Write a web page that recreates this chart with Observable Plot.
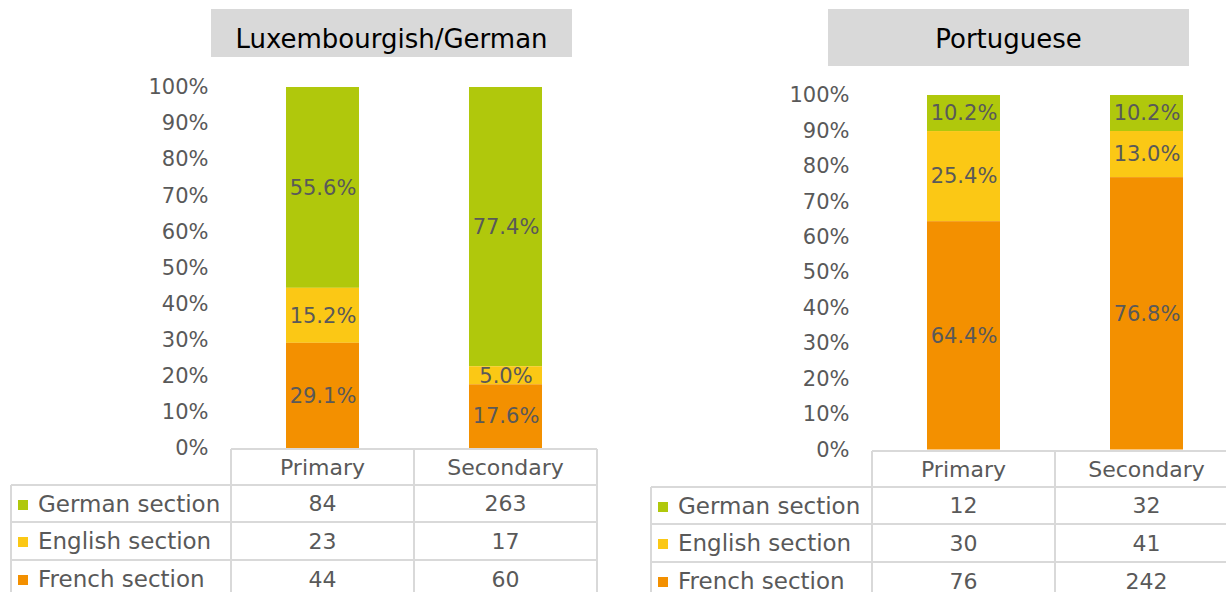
<!DOCTYPE html>
<html>
<head>
<meta charset="utf-8">
<script src="https://cdn.jsdelivr.net/npm/d3@7"></script>
<script src="https://cdn.jsdelivr.net/npm/@observablehq/plot@0.6"></script>
<style>
  html, body { margin: 0; padding: 0; background: #fff; overflow: hidden; }
  #root { position: relative; width: 1226px; height: 592px; overflow: hidden; font-family: "DejaVu Sans", sans-serif; }
  .title { position: absolute; background: #d9d9d9; color: #000; font-size: 26px; line-height: 26px; display: flex; align-items: flex-start; justify-content: center; box-sizing: border-box; padding-top: 17px; white-space: nowrap; }
  .cell { position: absolute; display: flex; align-items: center; justify-content: center; color: #595959; font-size: 22px; white-space: nowrap; }
  .lab { justify-content: flex-start; font-size: 23px; }
  .hl, .vl { position: absolute; background: #d9d9d9; }
</style>
</head>
<body>
<div id="root"></div>
<script>
// ---- data ----
const categories = ["Primary", "Secondary"];
const sections = ["German section", "English section", "French section"];
const sectionColors = ["#b0c80c", "#fbc815", "#f39000"];
const luxPrimary = [84, 23, 44];
const luxSecondary = [263, 17, 60];
const ptPrimary = [12, 30, 76];
const ptSecondary = [32, 41, 242];
const panelTitles = ["Luxembourgish/German", "Portuguese"];
const yTicks = [0, 0.1, 0.2, 0.3, 0.4, 0.5, 0.6, 0.7, 0.8, 0.9, 1.0];

// ---- layout ----
const panels = [
  { title: panelTitles[0], primary: luxPrimary, secondary: luxSecondary,
    svgLeft: 0, svgWidth: 610, yTop: 87, yBottom: 448,
    colX: [11, 231, 414, 597], rowY: [449, 485, 522, 560, 598],
    titleBox: [211, 9, 361, 48] },
  { title: panelTitles[1], primary: ptPrimary, secondary: ptSecondary,
    svgLeft: 610, svgWidth: 640, yTop: 95, yBottom: 449.5,
    colX: [651, 872, 1055, 1238], rowY: [451, 487, 524, 562, 600],
    titleBox: [828, 9, 361, 57] }
];

const root = document.getElementById("root");
const H = 592;

function el(cls, l, t, w, h, txt) {
  const d = document.createElement("div");
  d.className = cls;
  d.style.left = l + "px"; d.style.top = t + "px";
  d.style.width = w + "px"; d.style.height = h + "px";
  if (txt != null) d.textContent = txt;
  root.appendChild(d);
  return d;
}

for (const p of panels) {
  const rows = [];
  const series = [p.primary, p.secondary];
  categories.forEach((c, ci) => {
    const total = d3.sum(series[ci]);
    sections.forEach((s, si) => {
      rows.push({ category: c, section: s, count: series[ci][si],
                  label: (series[ci][si] / total * 100).toFixed(1) + "%" });
    });
  });
  const order = ["French section", "English section", "German section"];

  const chart = Plot.plot({
    width: p.svgWidth,
    height: H,
    marginLeft: p.colX[1] - p.svgLeft,
    marginRight: p.svgLeft + p.svgWidth - p.colX[3],
    marginTop: p.yTop,
    marginBottom: H - p.yBottom,
    style: { fontFamily: "DejaVu Sans, sans-serif", color: "#595959", background: "transparent", overflow: "visible" },
    x: { domain: categories, paddingInner: 0.6, paddingOuter: 0.3, axis: null },
    y: { domain: [0, 1], axis: null, label: null },
    color: { domain: sections, range: sectionColors },
    marks: [
      Plot.barY(rows, Plot.stackY({ x: "category", y: "count", z: "section", fill: "section", order, offset: "normalize" })),
      Plot.text(rows, Plot.stackY({ x: "category", y: "count", z: "section", order, offset: "normalize", text: "label", fill: "#595959", fontSize: 21 })),
      Plot.axisY({ ticks: yTicks, tickFormat: d3.format(".0%"), tickSize: 0, tickPadding: 23, fontSize: 21, fill: "#595959", label: null })
    ]
  });
  chart.style.position = "absolute";
  chart.style.left = p.svgLeft + "px";
  chart.style.top = "0px";
  root.appendChild(chart);

  // title box
  const [tl, tt, tw, th] = p.titleBox;
  el("title", tl, tt, tw, th, p.title);

  // table
  const cx = p.colX, ry = p.rowY, lw = 2;
  categories.forEach((c, i) => el("cell", cx[i + 1], ry[0], cx[i + 2] - cx[i + 1], ry[1] - ry[0], c));
  sections.forEach((s, si) => {
    const top = ry[si + 1], h = ry[si + 2] - ry[si + 1];
    const lab = el("cell lab", cx[0] + 7, top, cx[1] - cx[0] - 7, h);
    const sq = document.createElement("span");
    sq.style.cssText = `display:inline-block;flex:none;width:10px;height:10px;background:${sectionColors[si]};margin-right:10px;margin-top:2px;`;
    lab.appendChild(sq);
    lab.appendChild(document.createTextNode(s));
    el("cell", cx[1], top, cx[2] - cx[1], h, String(p.primary[si]));
    el("cell", cx[2], top, cx[3] - cx[2], h, String(p.secondary[si]));
  });
  el("hl", cx[1], ry[0] - 1, cx[3] - cx[1], lw);
  for (let r = 1; r < ry.length; r++) el("hl", cx[0], ry[r] - 1, cx[3] - cx[0], lw);
  el("vl", cx[0] - 1, ry[1], lw, ry[4] - ry[1]);
  for (let c = 1; c < cx.length; c++) el("vl", cx[c] - 1, ry[0], lw, ry[4] - ry[0]);
}
</script>
</body>
</html>
